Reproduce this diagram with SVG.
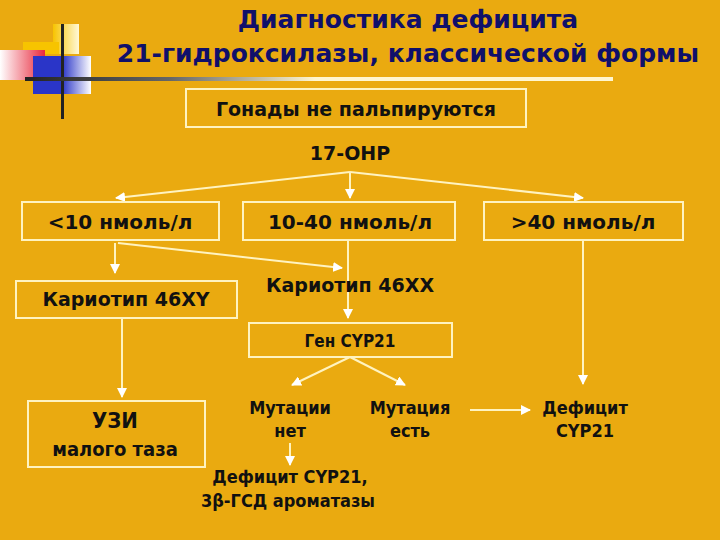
<svg xmlns="http://www.w3.org/2000/svg" width="720" height="540" viewBox="0 0 720 540">
<defs>
<linearGradient id="hl" x1="0" x2="1"><stop offset="0" stop-color="#222"/><stop offset="0.5" stop-color="#666"/><stop offset="1" stop-color="#fff6d0"/></linearGradient>
<linearGradient id="red" x1="0" x2="1"><stop offset="0" stop-color="#fff"/><stop offset="1" stop-color="#e8283c"/></linearGradient>
<linearGradient id="blue" x1="0" x2="1"><stop offset="0" stop-color="#2a35c8"/><stop offset="0.5" stop-color="#2a35c8"/><stop offset="1" stop-color="#fff"/></linearGradient>
<linearGradient id="yel" x1="0" x2="1"><stop offset="0" stop-color="#f7c400"/><stop offset="1" stop-color="#fff8d8"/></linearGradient>
<marker id="a" viewBox="0 0 10 10" refX="9" refY="5" markerWidth="5" markerHeight="5" orient="auto"><path d="M0,0L10,5L0,10z" fill="#fff"/></marker>
<style>
.b{fill:none;stroke:#fff3c0;stroke-width:2}
.c{stroke:#fff3c0;stroke-width:2;fill:none;marker-end:url(#a)}
.t{font-family:"DejaVu Sans",Verdana,sans-serif;font-weight:bold;fill:#111;text-anchor:middle}
.n{font-family:"DejaVu Sans Condensed","Liberation Sans Narrow","DejaVu Sans",sans-serif;font-stretch:condensed;font-weight:bold;fill:#111;text-anchor:middle}
</style>
</defs>
<rect width="720" height="540" fill="#eaaa10"/>
<g id="decor">
<rect x="53" y="24" width="26" height="30" fill="url(#yel)"/>
<rect x="23" y="42" width="36" height="12" fill="#f7c400"/>
<rect x="0" y="50" width="45" height="30" fill="url(#red)"/>
<rect x="33" y="56" width="58" height="38" fill="url(#blue)"/>
<rect x="61" y="24" width="3" height="95" fill="#222"/>
<rect x="25" y="77" width="290" height="4" fill="url(#hl)"/>
<rect x="315" y="77" width="298" height="4" fill="#fff6d0"/>
</g>
<g id="title">
<text class="t" x="408" y="28" font-size="25" style="fill:#10106a">Диагностика дефицита</text>
<text class="t" x="408" y="62" font-size="25" style="fill:#10106a">21-гидроксилазы, классической формы</text>
</g>
<g id="connectors">
<polyline class="c" points="350,172 116,198"/>
<line class="c" x1="350" y1="172" x2="350" y2="198"/>
<line class="c" x1="350" y1="172" x2="583" y2="198"/>
<line class="c" x1="115" y1="243" x2="115" y2="273"/>
<line class="c" x1="118" y1="243" x2="342" y2="268"/>
<line class="c" x1="348" y1="240" x2="348" y2="318"/>
<line class="c" x1="583" y1="240" x2="583" y2="384"/>
<line class="c" x1="122" y1="318" x2="122" y2="397"/>
<line class="c" x1="350" y1="357" x2="292" y2="385"/>
<line class="c" x1="350" y1="357" x2="405" y2="385"/>
<line class="c" x1="470" y1="410" x2="530" y2="410"/>
<line class="c" x1="290" y1="443" x2="290" y2="465"/>
</g>
<g id="n-gonady"><rect class="b" x="186" y="89" width="340" height="38"/><text class="t" x="356" y="116" font-size="19">Гонады не пальпируются</text></g>
<g id="n-17ohp"><text class="t" x="350" y="160" font-size="19">17-OHP</text></g>
<g id="n-lt10"><rect class="b" x="22" y="202" width="197" height="38"/><text class="t" x="120" y="229" font-size="20">&lt;10 нмоль/л</text></g>
<g id="n-10-40"><rect class="b" x="243" y="202" width="212" height="38"/><text class="t" x="350" y="229" font-size="20">10-40 нмоль/л</text></g>
<g id="n-gt40"><rect class="b" x="484" y="202" width="199" height="38"/><text class="t" x="583" y="229" font-size="20">&gt;40 нмоль/л</text></g>
<g id="n-46xy"><rect class="b" x="16" y="281" width="221" height="37"/><text class="t" x="126" y="306" font-size="19">Кариотип 46XY</text></g>
<g id="n-46xx"><text class="t" x="350" y="292" font-size="19">Кариотип 46XX</text></g>
<g id="n-cyp21"><rect class="b" x="249" y="323" width="203" height="34"/><text class="n" x="350" y="347" font-size="17">Ген CYP21</text></g>
<g id="n-uzi"><rect class="b" x="28" y="401" width="177" height="66"/><text class="n" x="115" y="428" font-size="22">УЗИ</text><text class="n" x="115" y="456" font-size="20">малого таза</text></g>
<g id="n-mutno"><text class="n" x="290" y="414" font-size="18">Мутации</text><text class="n" x="290" y="437" font-size="18">нет</text></g>
<g id="n-mutyes"><text class="n" x="410" y="414" font-size="18">Мутация</text><text class="n" x="410" y="437" font-size="18">есть</text></g>
<g id="n-def"><text class="n" x="585" y="414" font-size="18">Дефицит</text><text class="n" x="585" y="437" font-size="18">CYP21</text></g>
<g id="n-def2"><text class="n" x="290" y="483" font-size="18">Дефицит CYP21,</text><text class="n" x="288" y="507" font-size="18">3β-ГСД ароматазы</text></g>
</svg>
